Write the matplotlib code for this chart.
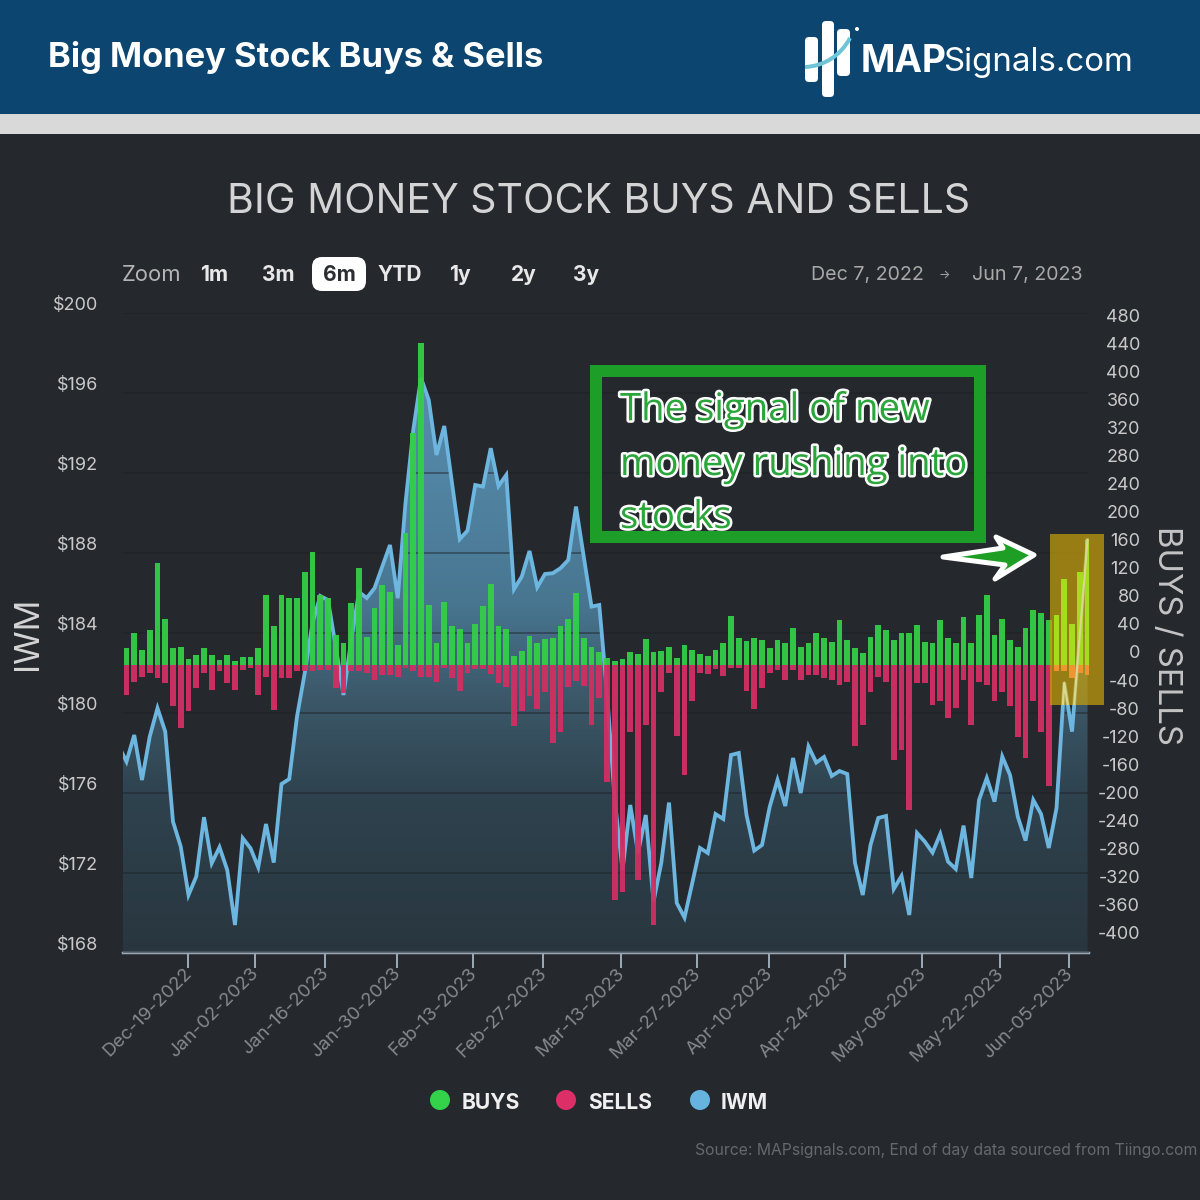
import matplotlib
matplotlib.use("Agg")
import matplotlib.pyplot as plt
import matplotlib.patheffects as pe
import numpy as np
from matplotlib.patches import Rectangle, FancyBboxPatch, Circle, Polygon, PathPatch
from matplotlib.path import Path
from matplotlib.transforms import ScaledTranslation

plt.rcParams['font.family'] = ['Inter', 'DejaVu Sans']

# Data
buys = [24, 45, 21, 50, 145, 66, 24, 26, 9, 14, 24, 14, 7, 14, 5, 12, 12, 24, 100, 55, 100, 95, 95, 133, 161,
        100, 95, 43, 31, 88, 138, 40, 81, 114, 104, 28, 188, 330, 459, 85, 31, 89, 56, 51, 32, 58, 84, 115, 56, 51,
        13, 20, 41, 32, 37, 39, 56, 65, 103, 39, 25, 18, 10, 6, 8, 18, 15, 37, 18, 20, 25, 10, 29, 22, 15,
        13, 22, 32, 70, 39, 34, 39, 36, 24, 36, 31, 52, 26, 31, 45, 38, 33, 64, 36, 24, 17, 40, 57, 50, 36,
        45, 45, 57, 33, 31, 64, 38, 31, 69, 31, 71, 100, 43, 66, 36, 26, 52, 78, 74, 64, 71, 123, 59, 133, 178]
sells = [-43, -24, -17, -12, -19, -26, -59, -90, -66, -33, -12, -36, -9, -26, -36, -7, -5, -43, -17, -64, -19, -19, -9, -9, -9,
         -7, -7, -33, -40, -9, -9, -12, -21, -14, -14, -17, -5, -9, -17, -17, -24, -4, -18, -37, -11, -6, -6, -13, -25, -32,
         -87, -66, -44, -63, -39, -111, -96, -32, -23, -30, -85, -47, -167, -335, -323, -96, -306, -85, -370, -39, -11, -101, -157, -51, -11,
         -13, -6, -16, -4, -4, -37, -63, -33, -12, -7, -21, -7, -21, -14, -14, -19, -21, -28, -24, -116, -85, -38, -17, -24, -135,
         -121, -207, -26, -26, -57, -52, -76, -62, -21, -85, -24, -28, -52, -38, -59, -102, -133, -52, -95, -173, -9, -9, -19, -12, -14]
# first price sits just left of the window, the line is clipped there
iwm = [178.35, 177.57, 178.9, 176.65, 178.82, 180.24, 179.07, 174.57, 173.32, 170.9, 171.82, 174.79, 172.49, 173.29, 172.15,
       169.4, 173.74, 173.24, 172.29, 174.45, 172.52, 176.45, 176.7, 179.82, 182.0, 184.5, 185.85, 185.65, 183.32, 180.9,
       183.65, 186.05, 185.75, 186.24, 187.32, 188.4, 185.74, 190.5, 194.15, 196.75, 195.65, 192.9, 194.35, 191.5, 188.69,
       189.12, 191.4, 191.32, 193.24, 191.35, 191.9, 186.19, 186.82, 188.1, 186.29, 186.95, 186.99, 187.24, 187.65, 190.32,
       187.82, 185.32, 185.4, 181.0, 175.65, 172.15, 175.4, 173.0, 174.9, 170.57, 172.5, 175.52, 170.5, 169.77, 171.5,
       173.25, 173.0, 174.95, 174.7, 177.9, 178.0, 174.9, 173.12, 173.4, 175.32, 176.65, 175.35, 177.75, 176.0, 178.32,
       177.52, 177.8, 176.85, 177.1, 176.95, 172.5, 170.9, 173.4, 174.75, 174.85, 171.2, 171.85, 169.9, 174.0, 173.57,
       173.02, 173.95, 172.57, 172.2, 174.37, 171.75, 175.65, 176.75, 175.57, 177.82, 176.9, 174.82, 173.62, 175.65, 174.95,
       173.25, 175.25, 181.52, 179.07, 183.9, 188.65]
date_ticks = [7.97, 16.58, 25.6, 34.86, 44.7, 53.74, 63.8, 73.6, 82.9, 92.7, 102.7, 112.7, 121.65]
date_labels = ['Dec-19-2022', 'Jan-02-2023', 'Jan-16-2023', 'Jan-30-2023', 'Feb-13-2023', 'Feb-27-2023', 'Mar-13-2023',
               'Mar-27-2023', 'Apr-10-2023', 'Apr-24-2023', 'May-08-2023', 'May-22-2023', 'Jun-05-2023']
price_ticks = np.arange(168, 201, 4)
flow_ticks = np.arange(-400, 481, 40)

GREEN = '#33cf47'
RED = '#d22f63'
BLUE = '#6cb6e0'
BG = '#25292e'
FRAME = '#1c9e28'


def pt(px):
    return px * 0.72


fig = plt.figure(figsize=(12, 12), dpi=100, facecolor=BG)

# page furniture, in pixel coordinates
bg = fig.add_axes([0, 0, 1, 1], zorder=0)
bg.set_xlim(0, 1200)
bg.set_ylim(1200, 0)
bg.axis('off')
bg.add_patch(Rectangle((0, 0), 1200, 114, color='#0b4570', lw=0))
bg.add_patch(Rectangle((0, 114), 1200, 20, color='#d9d9d9', lw=0))

# main axes
ax = fig.add_axes([123 / 1200, 1 - 953 / 1200, 966 / 1200, 640 / 1200], zorder=1)
ax.patch.set_visible(False)
x_line = np.arange(-1, len(iwm) - 1)
x_bars = np.arange(len(buys))

# area under the price, fading to the bottom
area = ax.fill_between(x_line, iwm, 160, facecolor='none', edgecolor='none')
rows = np.linspace(0, 1, 300)
stops = [0, 0.1, 0.29, 0.45, 0.6, 0.76, 1]
grad = np.zeros((300, 1, 3))
grad[:, 0, 0] = np.interp(rows, stops, [90, 88, 80, 72, 60, 46, 41]) / 255
grad[:, 0, 1] = np.interp(rows, stops, [142, 140, 130, 118, 88, 66, 54]) / 255
grad[:, 0, 2] = np.interp(rows, stops, [178, 175, 160, 145, 105, 78, 63]) / 255
im = ax.imshow(grad, extent=[-1, 125, 168, 200], aspect='auto', origin='upper', zorder=1)
im.set_clip_path(PathPatch(area.get_paths()[0], transform=ax.transData))
ax.plot(x_line, iwm, color=BLUE, lw=pt(3.8), zorder=3, solid_joinstyle='miter')

ax.set_xlim(-0.45, 124.19)
ax.set_ylim(168, 200)
ax.set_yticks(price_ticks)
ax.set_yticklabels([f'${v}' for v in price_ticks], fontsize=pt(18), color='#c9c9c9')
ax.set_xticks(date_ticks)
ax.set_xticklabels(date_labels, fontsize=pt(18.7), color='#85898c', rotation=45, ha='right',
                   va='top', rotation_mode='anchor')
ax.tick_params(axis='y', length=0, pad=pt(25))
ax.tick_params(axis='x', length=pt(15), width=pt(2), color='#9aa7b5', pad=pt(2))
ax.grid(axis='y', color='#1d2125', lw=pt(1.6), alpha=0.55)
ax.set_axisbelow(False)
for s in ['top', 'left', 'right']:
    ax.spines[s].set_visible(False)
ax.spines['bottom'].set_color('#9aa7b5')
ax.spines['bottom'].set_linewidth(pt(2.5))
for lab in ax.get_yticklabels():
    lab.set_transform(lab.get_transform() + ScaledTranslation(0, pt(10) / 72, fig.dpi_scale_trans))
for lab in ax.get_xticklabels():
    lab.set_transform(lab.get_transform() + ScaledTranslation(pt(-5) / 72, pt(5) / 72, fig.dpi_scale_trans))

# bars on the right axis
ax2 = ax.twinx()
ax2.set_zorder(2)
ax2.patch.set_visible(False)
ax2.bar(x_bars, buys, width=0.74, color=GREEN, alpha=0.95, zorder=2)
ax2.bar(x_bars, sells, width=0.74, color=RED, alpha=0.95, zorder=2)
ax2.set_ylim(-410.3, 501.4)
ax2.set_yticks(flow_ticks)
ax2.set_yticklabels([str(v) for v in flow_ticks], fontsize=pt(18), color='#c9c9c9', ha='right')
ax2.tick_params(axis='y', length=0, pad=pt(51))
for s in ax2.spines.values():
    s.set_visible(False)
for lab in ax2.get_yticklabels():
    lab.set_transform(lab.get_transform() + ScaledTranslation(0, pt(13) / 72, fig.dpi_scale_trans))

# overlay, pixel coordinates again
top = fig.add_axes([0, 0, 1, 1], zorder=3)
top.set_xlim(0, 1200)
top.set_ylim(1200, 0)
top.axis('off')

# yellow highlight with the marks glowing through it
glow = Rectangle((1050, 534), 54, 171, color='#c9a109', alpha=0.7, lw=0, transform=top.transData, zorder=5)
ax2.add_patch(glow)
glow.set_clip_on(False)
ax2.bar(x_bars[120:], buys[120:], width=0.74, color='#a6dc1e', zorder=6)
ax2.bar(x_bars[120:], sells[120:], width=0.74, color='#ee9430', zorder=6)
clip_rect = Rectangle((1050, 534), 54, 171, transform=top.transData)
hi, = ax2.plot(x_line, iwm, color='#d8d890', lw=pt(2.2), zorder=7, transform=ax.transData)
hi.set_clip_path(clip_rect)

# header
top.text(48, 57, 'Big Money Stock Buys & Sells', fontsize=pt(34.5), fontweight='bold', color='white', va='center')
for bx, by, bw, bh in [(805, 37, 13, 45), (822, 21, 12, 76), (837, 29, 13, 47)]:
    top.add_patch(FancyBboxPatch((bx + 3, by + 3), bw - 6, bh - 6, boxstyle='round,pad=3,rounding_size=4',
                                 fc='white', ec='none'))
swoosh = Path([(805, 67), (825, 66), (841, 55), (850, 38)], [Path.MOVETO, Path.CURVE4, Path.CURVE4, Path.CURVE4])
top.add_patch(PathPatch(swoosh, fc='none', ec='#6fc5d6', lw=pt(4)))
top.add_patch(Circle((857, 29), 2, color='white', lw=0))
top.text(861, 62, 'MAP', fontsize=pt(37), fontweight='bold', color='white', va='center')
top.text(943, 62, 'Signals.com', fontsize=pt(33), color='white', va='center')

# title and zoom bar
top.text(599, 202, 'BIG MONEY STOCK BUYS AND SELLS', fontsize=pt(41), color='#d4d4d4', ha='center', va='center')
top.text(122, 275, 'Zoom', fontsize=pt(22), color='#b4b4b4', va='center')
top.add_patch(FancyBboxPatch((322, 267), 34, 14, boxstyle='round,pad=10,rounding_size=10', fc='white', ec='none'))
for lx, lab, col in [(214, '1m', '#e8e8e8'), (278, '3m', '#e8e8e8'), (339, '6m', '#2a2e33'), (400, 'YTD', '#e8e8e8'),
                     (460, '1y', '#e8e8e8'), (524, '2y', '#e8e8e8'), (586, '3y', '#e8e8e8')]:
    top.text(lx, 275, lab, fontsize=pt(21), fontweight='bold', color=col, ha='center', va='center')
top.text(924, 275, 'Dec 7, 2022', fontsize=pt(19.6), color='#a8a8a8', ha='right', va='center')
top.text(944, 275, '→', fontsize=pt(12), color='#a8a8a8', ha='center', va='center')
top.text(1083, 275, 'Jun 7, 2023', fontsize=pt(19.6), color='#a8a8a8', ha='right', va='center')

# axis titles
top.text(28, 633, 'IWM', fontsize=pt(34), color='#d5d5d5', rotation=90, ha='center', va='center')
top.text(1167, 635, 'BUYS / SELLS', fontsize=pt(33), color='#c4c4c4', rotation=270, ha='center', va='center')

# call-out
top.add_patch(Rectangle((596, 371), 384, 166, fc='none', ec=FRAME, lw=pt(12), joinstyle='miter'))
outline = [pe.withStroke(linewidth=pt(5), foreground='white')]
for ly, line in [(410, 'The signal of new'), (465, 'money rushing into'), (518, 'stocks')]:
    top.text(620, ly, line, fontsize=pt(38.3), color='#2aa63a', va='center', family='Open Sans', path_effects=outline)
arrow = [(943, 557), (1003, 548), (996, 537), (1034, 555), (995, 579), (1005, 565)]
top.add_patch(Polygon(arrow, closed=True, fc='#1f9e25', ec='white', lw=pt(5), joinstyle='round'))

# legend
for cx, col, lx, lab in [(440, '#33d24a', 462, 'BUYS'), (566, '#dc2f67', 588, 'SELLS'), (700, '#66b3e0', 721, 'IWM')]:
    top.add_patch(Circle((cx, 1100), 10, color=col, lw=0))
    top.text(lx, 1103, lab, fontsize=pt(21), fontweight='bold', color='#f0f0f0', va='center')
top.text(1197, 1151, 'Source: MAPsignals.com, End of day data sourced from Tiingo.com', fontsize=pt(15.7),
         color='#65696c', ha='right', va='center')

fig.savefig('out.png', dpi=100, facecolor=BG)
